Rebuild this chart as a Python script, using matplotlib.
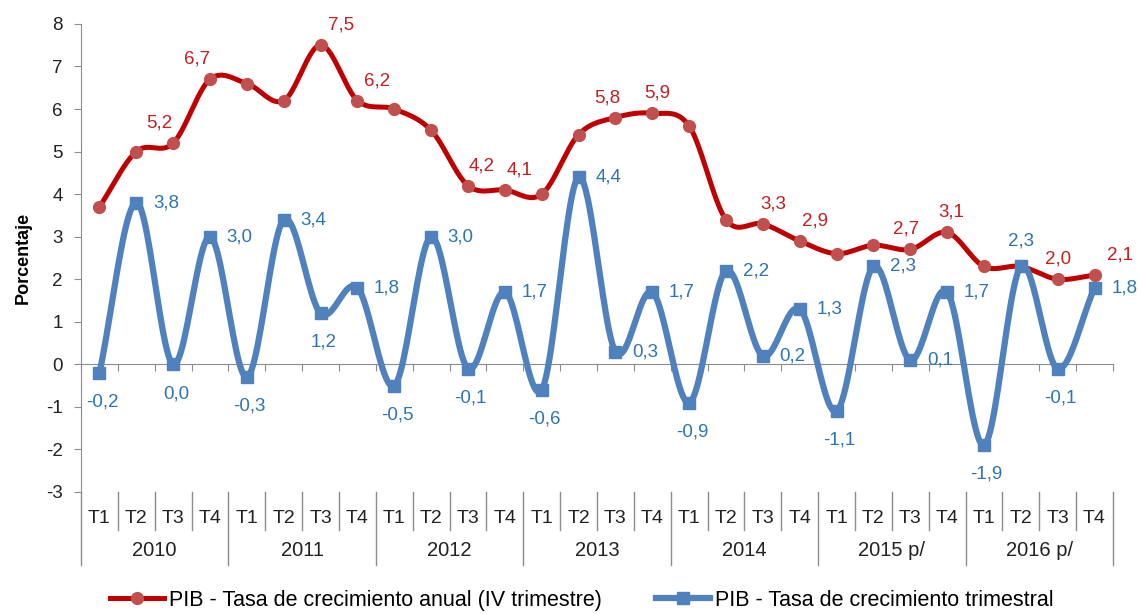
import numpy as np
import matplotlib.pyplot as plt
from matplotlib.lines import Line2D

plt.rcParams['font.family'] = ['Liberation Sans', 'DejaVu Sans']

years = ['2010', '2011', '2012', '2013', '2014', '2015 p/', '2016 p/']
quarters = ['T1', 'T2', 'T3', 'T4']

anual = [3.7, 5.0, 5.2, 6.7, 6.6, 6.2, 7.5, 6.2, 6.0, 5.5, 4.2, 4.1, 4.0, 5.4,
         5.8, 5.9, 5.6, 3.4, 3.3, 2.9, 2.6, 2.8, 2.7, 3.1, 2.3, 2.3, 2.0, 2.1]
trimestral = [-0.2, 3.8, 0.0, 3.0, -0.3, 3.4, 1.2, 1.8, -0.5, 3.0, -0.1, 1.7, -0.6, 4.4,
              0.3, 1.7, -0.9, 2.2, 0.2, 1.3, -1.1, 2.3, 0.1, 1.7, -1.9, 2.3, -0.1, 1.8]

# which annual points carry a label, and the sideways shift of each label (px)
anual_labeled = [2, 3, 6, 7, 10, 11, 14, 15, 18, 19, 22, 23, 26, 27]
anual_dx = [-14, -13, 20, 20, 14, 15, -8, 5, 10, 15, -4, 4, 0, 25]
# label placement for quarterly series: r = right, b = below, a = above
trim_pos = ['b', 'r', 'b', 'r', 'b', 'r', 'b', 'r', 'b', 'r', 'b', 'r', 'b', 'r',
            'r', 'r', 'b', 'r', 'r', 'r', 'b', 'r', 'r', 'r', 'b', 'a', 'b', 'r']

RED_LINE = '#C00000'
RED_MARK = '#C0504D'
RED_TEXT = '#C81E1E'
BLUE = '#4F81BD'
BLUE_TEXT = '#2E75B6'
GRAY = '#8C8C8C'
PX = 0.72  # points per pixel at dpi 100


def smooth(y, n=24):
    # Catmull-Rom curve through the points, similar to Excel's smoothed line
    y = np.asarray(y, dtype=float)
    x = np.arange(len(y), dtype=float)
    p = np.concatenate([[2 * y[0] - y[1]], y, [2 * y[-1] - y[-2]]])
    xs, ys = [], []
    for i in range(len(y) - 1):
        t = np.linspace(0, 1, n, endpoint=False)
        p0, p1, p2, p3 = p[i], p[i + 1], p[i + 2], p[i + 3]
        yy = 0.5 * ((2 * p1) + (-p0 + p2) * t + (2 * p0 - 5 * p1 + 4 * p2 - p3) * t ** 2
                    + (-p0 + 3 * p1 - 3 * p2 + p3) * t ** 3)
        xs.append(x[i] + t)
        ys.append(yy)
    xs.append([x[-1]])
    ys.append([y[-1]])
    return np.concatenate(xs), np.concatenate(ys)


def fmt(v):
    return f'{v:.1f}'.replace('.', ',')


fig = plt.figure(figsize=(11.38, 6.14), dpi=100)
ax = fig.add_axes([0.0712, 0.1987, 0.9068, 0.7623])

n = len(anual)
x = np.arange(n)

sx, sy = smooth(anual)
ax.plot(sx, sy, color=RED_LINE, lw=3.6, solid_capstyle='round', zorder=3)
ax.plot(x, anual, 'o', color=RED_MARK, ms=8.5, zorder=4)

sx, sy = smooth(trimestral)
ax.plot(sx, sy, color=BLUE, lw=4.5, solid_capstyle='butt', zorder=5)
ax.plot(x, trimestral, 's', color=BLUE, ms=8, zorder=6)

for i, dx in zip(anual_labeled, anual_dx):
    ax.annotate(fmt(anual[i]), (i, anual[i]), xytext=(dx * PX, 20 * PX), textcoords='offset points',
                ha='center', va='center', color=RED_TEXT, fontsize=13.5, zorder=7)

for i, v in enumerate(trimestral):
    pos = trim_pos[i]
    if pos == 'r':
        off, ha, va = (12, 0), 'left', 'center'
    elif pos == 'b':
        off, ha, va = (2, -21), 'center', 'center'
    else:
        off, ha, va = (0, 18), 'center', 'center'
    ax.annotate(fmt(v), (i, v), xytext=off, textcoords='offset points',
                ha=ha, va=va, color=BLUE_TEXT, fontsize=13.5, zorder=7)

ax.set_xlim(-0.5, n - 0.5)
ax.set_ylim(-3, 8)
ax.set_yticks(range(-3, 9))
ax.set_yticklabels([str(v) for v in range(-3, 9)], fontsize=13.5, color='#222222')
ax.tick_params(axis='y', direction='out', length=5, color=GRAY, pad=8)

for s in ['top', 'right']:
    ax.spines[s].set_visible(False)
ax.spines['left'].set_color(GRAY)
ax.spines['bottom'].set_position(('data', 0))
ax.spines['bottom'].set_color(GRAY)
ax.set_xticks(np.arange(n + 1) - 0.5)
ax.set_xticklabels([])
ax.tick_params(axis='x', direction='out', length=5, color=GRAY)

ax.set_ylabel('Porcentaje', fontsize=13, fontweight='bold', labelpad=10)

# category axis below the plot
trans = ax.get_xaxis_transform()
for k in range(n + 1):
    bottom = -0.156 if k % 4 == 0 else -0.081
    ax.plot([k - 0.5, k - 0.5], [0, bottom], color=GRAY, lw=1, transform=trans, clip_on=False)
for k in range(n):
    ax.text(k, -0.056, quarters[k % 4], transform=trans, ha='center', va='center',
            fontsize=14, color='#222222')
for j, yr in enumerate(years):
    ax.text(j * 4 + 1.5, -0.124, yr, transform=trans, ha='center', va='center',
            fontsize=14.5, color='#222222')

handles = [
    Line2D([], [], color=RED_LINE, lw=3.6, marker='o', ms=8.5, mfc=RED_MARK, mec=RED_MARK),
    Line2D([], [], color=BLUE, lw=4.5, marker='s', ms=8, mfc=BLUE, mec=BLUE),
]
labels = ['PIB - Tasa de crecimiento anual (IV trimestre)', 'PIB - Tasa de crecimiento trimestral']
fig.legend(handles, labels, loc='center', bbox_to_anchor=(0.5115, 0.022), ncol=2,
           frameon=False, fontsize=15.5, handlelength=2.5, handletextpad=0.25,
           columnspacing=2.5)

fig.savefig('out.png', dpi=100)
